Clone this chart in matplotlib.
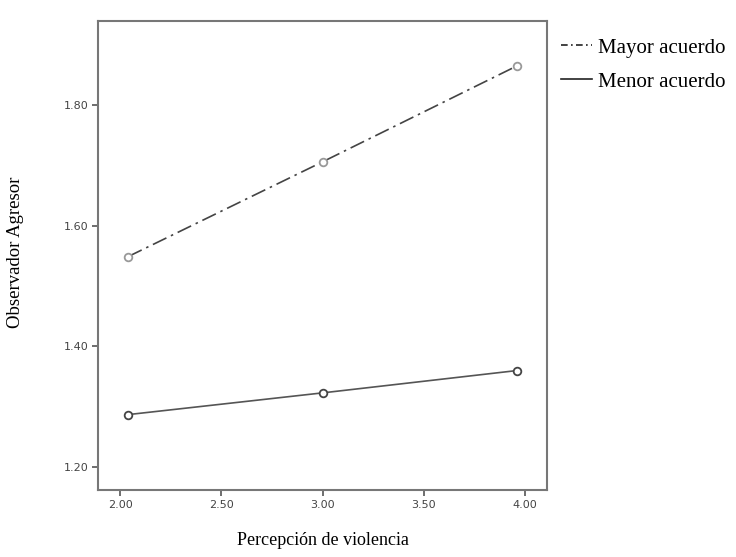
import matplotlib.pyplot as plt

x_vals = [2.04, 3.00, 3.96]
mayor = [1.549, 1.706, 1.865]
menor = [1.287, 1.323, 1.360]
xticks = [2.0, 2.5, 3.0, 3.5, 4.0]
yticks = [1.2, 1.4, 1.6, 1.8]

fig = plt.figure(figsize=(7.36, 5.57), dpi=100)
ax = fig.add_axes([0.1332, 0.1203, 0.6100, 0.8425])

l1, = ax.plot(x_vals, mayor, color='#444444', lw=1.2, dashes=(9, 3, 1.5, 3),
              marker='o', ms=5.5, mfc='white', mec='#999999', mew=1.3)
l2, = ax.plot(x_vals, menor, color='#555555', lw=1.2,
              marker='o', ms=5.5, mfc='white', mec='#444444', mew=1.3)

ax.set_xlim(1.891, 4.109)
ax.set_ylim(1.162, 1.94)
ax.set_xticks(xticks)
ax.set_xticklabels([f'{t:.2f}' for t in xticks])
ax.set_yticks(yticks)
ax.set_yticklabels([f'{t:.2f}' for t in yticks])
ax.tick_params(direction='out', length=4, width=1.2, color='#555555',
               labelsize=8, labelcolor='#444444', pad=3)
for s in ax.spines.values():
    s.set_color('#777777')
    s.set_linewidth(1.5)

ax.set_xlabel('Percepción de violencia', family='Liberation Serif', fontsize=13, labelpad=16)
fig.text(16 / 736, 1 - 252 / 557, 'Observador Agresor', family='Liberation Serif',
         fontsize=13.5, rotation=90, ha='center', va='center')

leg = fig.legend([l1, l2], ['Mayor acuerdo', 'Menor acuerdo'], loc='upper left',
                 bbox_to_anchor=(561 / 736, 1 - 38 / 557), frameon=False,
                 borderpad=0, borderaxespad=0, handlelength=1.5,
                 handletextpad=0.3, labelspacing=0.7,
                 prop={'family': 'Liberation Serif', 'size': 15})
for h in leg.legend_handles:
    h.set_marker('')
    h.set_color('#222222')
leg.legend_handles[0].set_dashes((4, 2, 1, 2))

fig.savefig('out.png', dpi=100)
